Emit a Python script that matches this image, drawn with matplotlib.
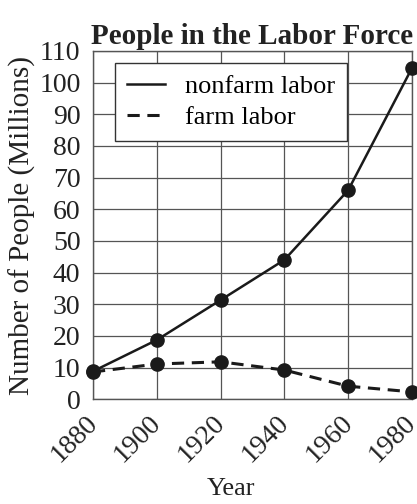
import matplotlib
matplotlib.use('Agg')
import matplotlib.pyplot as plt
import matplotlib.transforms as mtransforms

plt.rcParams['font.family'] = ['Liberation Serif', 'DejaVu Serif']

years = [1880, 1900, 1920, 1940, 1960, 1980]
nonfarm = [8.8, 18.7, 31.3, 44.0, 66.0, 104.6]
farm = [8.6, 11.1, 11.8, 9.2, 4.1, 2.3]

fig = plt.figure(figsize=(4.17, 5.04), dpi=100)
ax = fig.add_axes([0.223, 0.208, 0.765, 0.691])

ax.plot(years, nonfarm, color='#1a1a1a', lw=1.8, marker='o', ms=9.5,
        label='nonfarm labor', zorder=3, clip_on=False)
ax.plot(years, farm, color='#1a1a1a', lw=2.2, ls=(0, (4, 2.5)), marker='o', ms=9.5,
        label='farm labor', zorder=3, clip_on=False)

ax.set_xlim(1880, 1980)
ax.set_ylim(0, 110)
ax.set_xticks(years)
ax.set_yticks(range(0, 111, 10))
ax.grid(True, color='#555555', lw=0.9)
ax.set_axisbelow(True)
for s in ax.spines.values():
    s.set_color('#555555')
    s.set_linewidth(1.0)
ax.tick_params(length=0, labelsize=20, colors='#222222')
ax.tick_params(axis='y', pad=9)
ax.tick_params(axis='x', pad=8)
# nudge rotated year labels a little to the left so 1980 stays on the page
shift = mtransforms.ScaledTranslation(-6 / 72, 0, fig.dpi_scale_trans)
for lab in ax.get_xticklabels():
    lab.set_rotation(45)
    lab.set_ha('right')
    lab.set_rotation_mode('anchor')
    lab.set_transform(lab.get_transform() + shift)

ax.set_xlabel('Year', fontsize=19, color='#222222')
ax.xaxis.set_label_coords(0.433, -0.226)
ax.set_ylabel('Number of People (Millions)', fontsize=21, color='#222222', labelpad=2)
ax.set_title('People in the Labor Force', fontsize=21, fontweight='bold',
             color='#222222', pad=5)

leg = ax.legend(loc='upper left', bbox_to_anchor=(0.069, 0.966), fontsize=19,
                fancybox=False, edgecolor='#333333', framealpha=1,
                handlelength=1.45, borderpad=0.45, labelspacing=0.3,
                handletextpad=0.75, borderaxespad=0)
leg.get_frame().set_linewidth(1.0)
for h in leg.legend_handles:
    h.set_marker('')

fig.savefig('out.png', dpi=100)
